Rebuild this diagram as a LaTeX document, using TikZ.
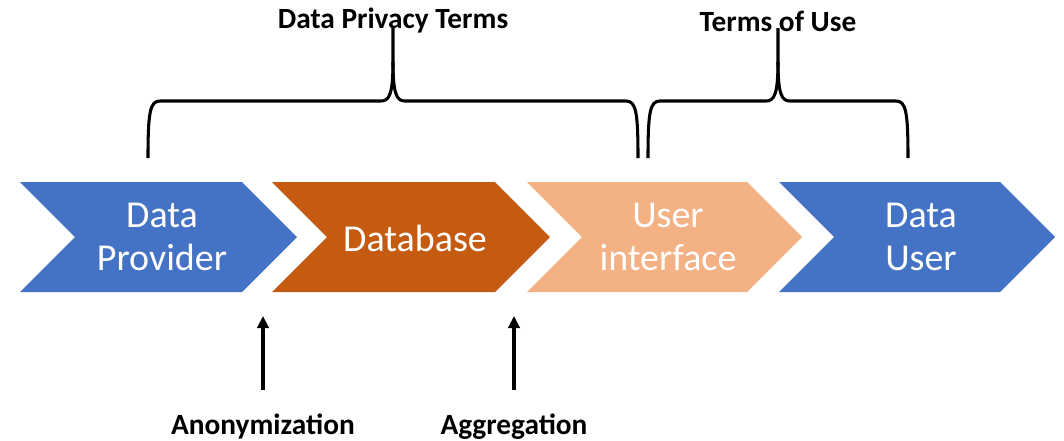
\documentclass[tikz,border=0pt]{standalone}
\usepackage{fontspec}
\setmainfont{Carlito}
\usetikzlibrary{arrows.meta}
\definecolor{cblue}{HTML}{4472C4}
\definecolor{corange}{HTML}{C55A11}
\definecolor{clight}{HTML}{F4B183}
\tikzset{
  chevtext/.style={text=white, align=center, font=\fontsize{28.5}{32}\selectfont, inner sep=0pt},
  toplabel/.style={font=\bfseries\fontsize{22}{26}\selectfont, inner sep=0pt},
  bracket/.style={line width=2.3pt, line join=round},
  uparrow/.style={line width=2.3pt, -{Triangle[length=9pt,width=8.5pt]}}
}
\newcommand\chevshape[3]{\fill[#3] (#1,182) -- (#2-55,182) -- (#2,237) -- (#2-55,292) -- (#1,292) -- (#1+55,237) -- cycle;}
\begin{document}
\begin{tikzpicture}[x=0.75pt,y=-0.75pt]
\useasboundingbox (0,0) rectangle (1064,440);
\chevshape{20}{297}{cblue}
\chevshape{272}{550}{corange}
\chevshape{527}{802}{clight}
\chevshape{779}{1055}{cblue}
\node[chevtext] (prov) at (162,237) {Data\\Provider};
\node[chevtext] (db) at (415,238) {Database};
\node[chevtext] (ui) at (668,237) {User\\interface};
\node[chevtext] (user) at (921,237) {Data\\User};
% braces
\draw[bracket] (148,158) .. controls (148,112) and (150,101) .. (160,101) -- (381,101)
  .. controls (389,101) and (393,95) .. (393,62) -- (393,28);
\draw[bracket] (393,62) .. controls (393,95) and (397,101) .. (405,101) -- (626,101)
  .. controls (636,101) and (638,112) .. (638,158);
\draw[bracket] (648,158) .. controls (648,112) and (650,101) .. (660,101) -- (766,101)
  .. controls (774,101) and (778,95) .. (778,62) -- (778,28);
\draw[bracket] (778,62) .. controls (778,95) and (782,101) .. (790,101) -- (896,101)
  .. controls (906,101) and (908,112) .. (908,158);
\node[toplabel] (dpt) at (393,21) {Data Privacy Terms};
\node[toplabel] (tou) at (778,21) {Terms of Use};
% bottom
\node[toplabel, anchor=base] (anon) at (263,434) {Anonymization};
\node[toplabel, anchor=base] (aggr) at (514,434) {Aggregation};
\coordinate (anontip) at (263,316);
\coordinate (aggrtip) at (514,316);
\draw[uparrow] (263,390) -- (anontip);
\draw[uparrow] (514,390) -- (aggrtip);
\end{tikzpicture}
\end{document}
